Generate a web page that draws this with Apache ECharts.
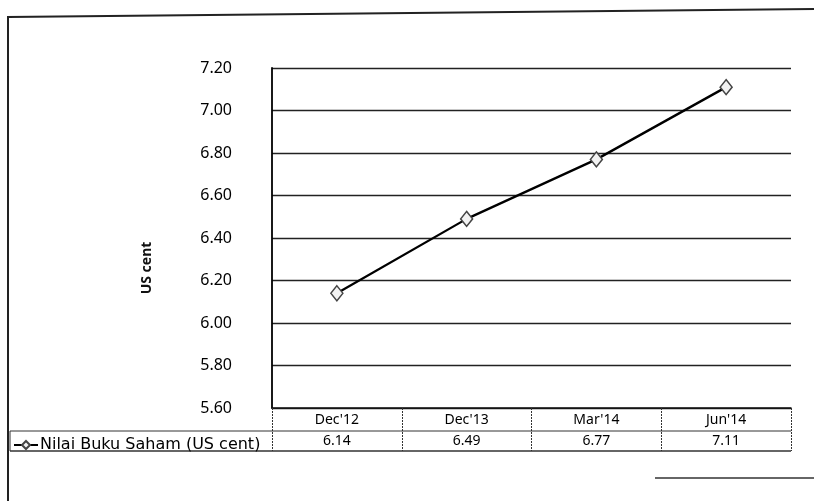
<!DOCTYPE html>
<html>
<head>
<meta charset="utf-8">
<script src="https://cdn.jsdelivr.net/npm/echarts@6/dist/echarts.min.js"></script>
<style>
html,body{margin:0;padding:0;background:#fff;}
#c{width:814px;height:501px;}
</style>
</head>
<body>
<div id="c"></div>
<script>
const categories = ["Dec'12", "Dec'13", "Mar'14", "Jun'14"];
const values = [6.14, 6.49, 6.77, 7.11];
const seriesName = 'Nilai Buku Saham (US cent)';
const axisTitle = 'US cent';
const yMin = 5.6, yMax = 7.2, yStep = 0.2;

const FONT = 'Noto Sans';
const chart = echarts.init(document.getElementById('c'));
chart.setOption({
  backgroundColor: '#fff',
  animation: false,
  grid: { left: 272, right: 23, top: 68, bottom: 93 },
  xAxis: {
    type: 'category',
    data: categories,
    boundaryGap: true,
    axisLine: { show: true, lineStyle: { color: '#111', width: 1.5 } },
    axisTick: { show: true, length: 43, lineStyle: { color: '#333', width: 1, type: [2, 1] } },
    axisLabel: {
      interval: 0, margin: 2, lineHeight: 21, fontSize: 14, fontFamily: FONT, color: '#000',
      formatter: (v, i) => v + '\n' + values[i].toFixed(2)
    },
    splitLine: { show: false }
  },
  yAxis: {
    type: 'value',
    min: yMin, max: yMax, interval: yStep,
    axisLine: { show: true, lineStyle: { color: '#000', width: 1.8 } },
    axisTick: { show: false },
    axisLabel: { margin: 40, fontSize: 16, fontFamily: FONT, color: '#000', formatter: v => v.toFixed(2) },
    splitLine: { show: true, lineStyle: { color: '#222', width: 1.3 } }
  },
  legend: {
    left: 8, top: 432, itemWidth: 24, itemHeight: 10, itemGap: 4,
    textStyle: { fontSize: 16, fontFamily: 'DejaVu Sans', color: '#000', padding: [0, 0, 0, -3] },
    data: [seriesName]
  },
  series: [{
    name: seriesName,
    type: 'line',
    data: values,
    symbol: 'diamond',
    symbolSize: [12, 15],
    lineStyle: { color: '#000', width: 2.3 },
    itemStyle: { color: '#f2f2f2', borderColor: '#444', borderWidth: 1.5 }
  }],
  graphic: [
    { type: 'polyline', shape: { points: [[8, 501], [8, 17], [814, 9]] }, style: { stroke: '#222', lineWidth: 2, fill: null } },
    { type: 'line', shape: { x1: 655, y1: 478, x2: 814, y2: 478 }, style: { stroke: '#333', lineWidth: 1.5 } },
    { type: 'line', shape: { x1: 10, y1: 431, x2: 791, y2: 431 }, style: { stroke: '#333', lineWidth: 1 } },
    { type: 'line', shape: { x1: 10, y1: 451, x2: 791, y2: 451 }, style: { stroke: '#333', lineWidth: 1.3 } },
    { type: 'line', shape: { x1: 10, y1: 431, x2: 10, y2: 451 }, style: { stroke: '#333', lineWidth: 1 } },
    { type: 'text', x: 147, y: 268, rotation: Math.PI / 2,
      style: { text: axisTitle, fontSize: 14, fontWeight: 'bold', fontFamily: FONT, fill: '#111', align: 'center', verticalAlign: 'middle' } }
  ]
});
</script>
</body>
</html>
